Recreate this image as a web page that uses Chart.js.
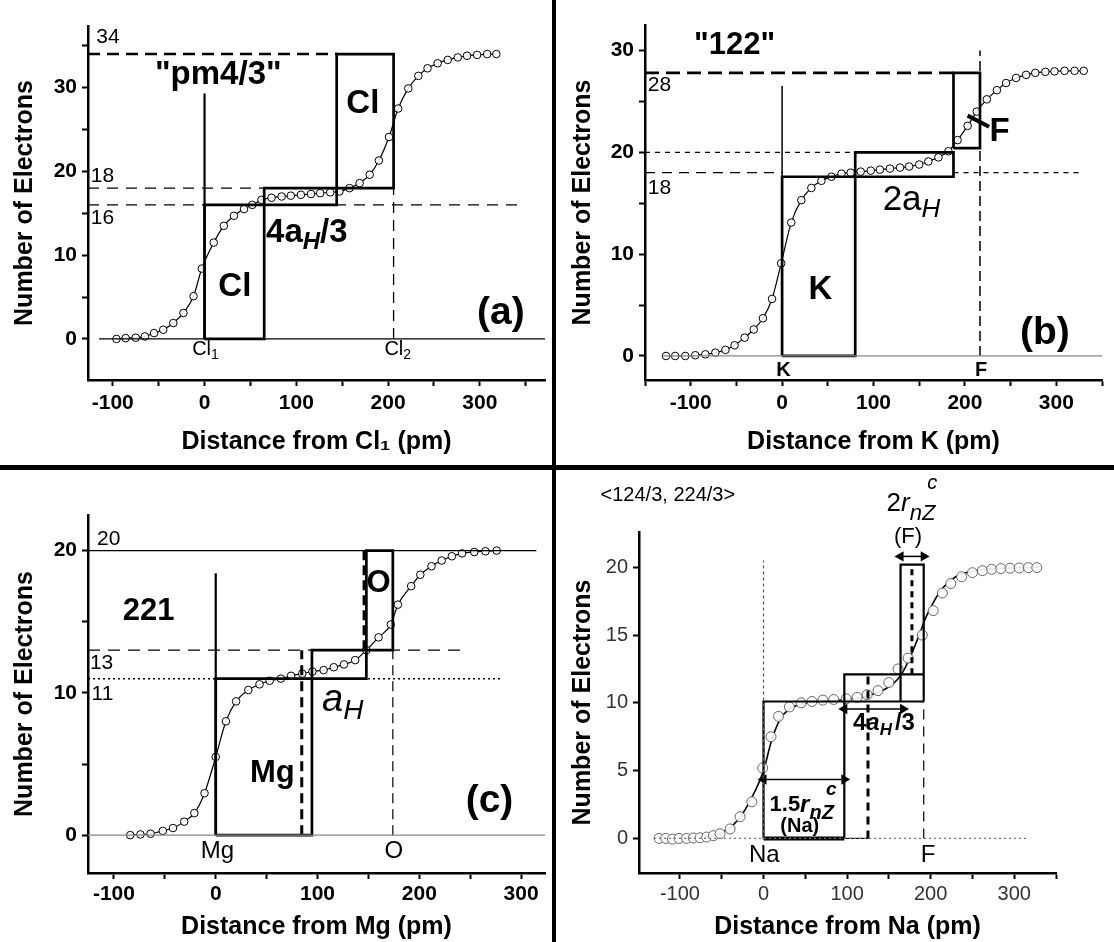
<!DOCTYPE html>
<html>
<head>
<meta charset="utf-8">
<script src="https://cdn.jsdelivr.net/npm/chart.js@4.4.1/dist/chart.umd.min.js"></script>
<style>
    html, body { margin: 0; padding: 0; background: #fff; }
    body { width: 1114px; height: 942px; position: relative; overflow: hidden; }
    canvas { position: absolute; }
    .bar { position: absolute; background: #000; }
</style>
</head>
<body>
<canvas id="pa" width="552" height="466" style="left:0;top:0"></canvas>
<canvas id="pb" width="556" height="466" style="left:558px;top:0"></canvas>
<canvas id="pc" width="552" height="472" style="left:0;top:470px"></canvas>
<canvas id="pd" width="556" height="472" style="left:558px;top:470px"></canvas>
<div class="bar" style="left:552px;top:0;width:4px;height:942px"></div>
<div class="bar" style="left:0;top:465px;width:1114px;height:5px"></div>
<script>
(() => {
    const FONT = '"Liberation Sans", Arial, Helvetica, sans-serif';

    // ticks and tick labels
    const xTicks = [-150, -100, -50, 0, 50, 100, 150, 200, 250, 300, 350];
    const xTickLabels = [-100, 0, 100, 200, 300];
    const yTicks = [0, 5, 10, 15, 20, 25, 30, 35];
    const aYLabels = [0, 10, 20, 30];
    const bYLabels = [0, 10, 20, 30];
    const cYLabels = [0, 10, 20];
    const dYLabels = [0, 5, 10, 15, 20];

    // (a) Cl2  "pm4/3"
    const aRange = [-127, 371];
    const aDist = [-96, -86, -75, -65, -55, -45, -34, -23, -12, -3, 10, 21, 32, 43, 52, 62, 73, 84, 94, 105,
        116, 126, 137, 147, 158, 169, 180, 190, 201, 211, 222, 233, 243, 254, 265, 276, 286, 297, 308, 318];
    const aElec = [0, 0.1, 0.15, 0.3, 0.7, 1.1, 1.9, 3.1, 5.1, 8.4, 11.5, 13.5, 14.7, 15.5, 16, 16.6, 16.85, 17, 17.1, 17.2,
        17.3, 17.4, 17.5, 17.6, 18, 18.6, 19.6, 21.3, 24.1, 27.5, 29.9, 31.4, 32.3, 32.9, 33.3, 33.6, 33.8, 33.9, 34, 34];
    const aLevels = [16, 18, 34];
    const aEdges = [0, 65, 144, 206];

    // (b) KF  "122"
    const bRange = [-150, 350];
    const bDist = [-127, -117, -106, -95, -84, -73, -62, -52, -41, -31, -21, -11, -1, 10, 21, 32, 43, 54, 65, 75, 86, 97,
        107, 118, 129, 139, 150, 160, 171, 182, 192, 203, 213, 224, 235, 245, 256, 267, 277, 288, 298, 309, 320, 330];
    const bElec = [0, 0, 0, 0.07, 0.16, 0.33, 0.6, 1.05, 1.8, 2.6, 3.7, 5.6, 9.1, 13.1, 15.3, 16.5, 17.2, 17.6, 17.9, 18.0, 18.1, 18.2,
        18.3, 18.4, 18.5, 18.6, 18.8, 19.1, 19.5, 20.1, 21.2, 22.6, 24.0, 25.2, 26.1, 26.8, 27.3, 27.6, 27.8, 27.9, 27.95, 28, 28, 28];
    const bLevels = [17.6, 20, 20.4, 27.8, 18];
    const bEdges = [0, 80, 187.5, 216.5];

    // (c) MgO  221
    const cRange = [-125.5, 323.5];
    const cDist = [-84, -74, -64, -52, -42, -31, -21, -11, 0, 10, 20, 32, 43, 53, 64, 74, 85, 95, 106, 116,
        126, 137, 148, 160, 172, 179, 192, 201, 212, 222, 232, 242, 254, 265, 276];
    const cElec = [0, 0.05, 0.1, 0.3, 0.5, 0.95, 1.55, 2.95, 5.5, 8.0, 9.4, 10.2, 10.6, 10.85, 11.0, 11.2, 11.35, 11.5, 11.6, 11.8,
        12.0, 12.3, 13.0, 13.9, 14.8, 16.2, 17.5, 18.3, 18.9, 19.3, 19.6, 19.8, 19.9, 19.95, 20];
    const cLevels = [11, 13, 20];
    const cEdges = [0, 84.5, 94.5, 146, 148, 174];

    // (d) NaF  <124/3, 224/3>
    const dRange = [-149, 350];
    const dDist = [-125, -117, -109, -101, -92, -84, -76, -68, -60, -52, -40, -28, -14, -1, 9, 18, 31, 45, 58, 71,
        84, 99, 112, 124, 137, 150, 161, 173, 190, 203, 214, 224, 237, 250, 262, 273, 284, 295, 306, 317, 327];
    const dElec = [0, 0, -0.05, 0, 0, 0.03, 0.05, 0.1, 0.2, 0.35, 0.7, 1.6, 2.7, 5.2, 7.5, 9.0, 9.7, 10.0, 10.1, 10.2,
        10.25, 10.3, 10.4, 10.6, 10.9, 11.5, 12.5, 13.3, 15.0, 16.8, 18.1, 18.8, 19.3, 19.6, 19.75, 19.85, 19.9, 19.93, 19.95, 19.97, 19.97];
    const dFitDist = [-125, -80, -60, -45, -30, -15, 0, 10, 20, 30, 45, 60, 80, 100, 120, 140, 155, 165, 175, 185,
        195, 205, 215, 230, 250, 280, 330];
    const dFitElec = [0, 0.05, 0.2, 0.6, 1.4, 2.9, 5, 7.3, 8.8, 9.5, 9.9, 10.05, 10.15, 10.25, 10.45, 10.85, 11.4, 12.1, 13.3, 14.8,
        16.4, 17.6, 18.5, 19.3, 19.7, 19.9, 20];
    const dLevels = [10.1, 12.1, 20.2];
    const dEdges = [0, 96.7, 125, 164, 177.6, 191.7];
    const dArrowY = [4.35, 9.55, 20.8];

    const f = (w, s, st) => `${st || ''} ${w} ${s}px ${FONT}`;

    // helpers that turn the values above into datasets
    const path = (pts, w, dash, color) => ({
        data: pts.map(p => ({ x: p[0], y: p[1] })),
        showLine: true, pointRadius: 0, fill: false, tension: 0,
        borderColor: color || '#000', borderWidth: w, borderDash: dash || [],
        borderJoinStyle: 'miter', borderCapStyle: 'butt'
    });
    const box = (x1, x2, y1, y2, w) => path([[x1, y1], [x1, y2], [x2, y2], [x2, y1], [x1, y1]], w);
    const curve = (xs, ys, r, ptColor, lw) => ({
        data: xs.map((x, i) => ({ x, y: ys[i] })),
        showLine: lw > 0, borderColor: '#000', borderWidth: lw, fill: false,
        cubicInterpolationMode: 'monotone',
        pointRadius: r, pointBackgroundColor: 'rgba(255,255,255,0.9)',
        pointBorderColor: ptColor, pointBorderWidth: 1
    });
    const arrow = (x1, x2, yv) => Object.assign(path([[x1, yv], [x2, yv]], 1.5), {
        pointRadius: 4.5, pointStyle: 'triangle', pointRotation: [270, 90],
        pointBackgroundColor: '#000', pointBorderColor: '#000'
    });

    // text notes, positioned through the chart scales
    const notes = (items) => ({
        id: 'notes',
        afterDatasetsDraw(chart) {
            const { ctx, scales: { x, y } } = chart;
            ctx.save();
            ctx.fillStyle = '#000';
            ctx.textBaseline = 'middle';
            items.forEach(it => {
                let w = 0;
                it.parts.forEach(p => { ctx.font = p[1]; w += ctx.measureText(p[0]).width + (p[3] || 0); });
                let px = x.getPixelForValue(it.x) - (it.left ? 0 : w / 2);
                const py = y.getPixelForValue(it.y);
                it.parts.forEach(p => {
                    ctx.font = p[1];
                    ctx.fillText(p[0], px, py + (p[2] || 0));
                    px += ctx.measureText(p[0]).width + (p[3] || 0);
                });
            });
            ctx.restore();
        }
    });

    const inRange = (vals, r) => vals.filter(v => v >= r[0] && v <= r[1]).map(v => ({ value: v }));

    const panel = (id, o) => new Chart(document.getElementById(id), {
        type: 'scatter',
        data: { datasets: o.sets },
        options: {
            responsive: false, animation: false, events: [], devicePixelRatio: 1,
            layout: { padding: { left: 0, right: o.padR, top: o.padT, bottom: 0 } },
            plugins: { legend: { display: false }, tooltip: { enabled: false } },
            scales: {
                x: {
                    type: 'linear', min: o.xr[0], max: o.xr[1],
                    afterBuildTicks: s => { s.ticks = inRange(xTicks, o.xr); },
                    afterFit: s => { s.height = o.xH; },
                    border: { color: '#000', width: 2.5 },
                    grid: { drawOnChartArea: false, tickLength: 6, tickWidth: 2, tickColor: '#000' },
                    ticks: {
                        autoSkip: false, maxRotation: 0,
                        padding: o.xPad, color: o.tickColor || '#000', font: o.tickFont,
                        callback: v => xTickLabels.includes(v) ? String(v) : ''
                    },
                    title: { display: true, text: o.xTitle, color: '#000',
                        font: { family: FONT, size: 25, weight: 'bold' }, padding: { top: 0, bottom: o.xTitlePad } }
                },
                y: {
                    type: 'linear', min: o.yr[0], max: o.yr[1],
                    afterBuildTicks: s => { s.ticks = inRange(yTicks, o.yr); },
                    afterFit: s => { s.width = o.yW; },
                    border: { color: '#000', width: 2.5 },
                    grid: { drawOnChartArea: false, tickLength: 6, tickWidth: 2, tickColor: '#000' },
                    ticks: {
                        autoSkip: false, padding: 5,
                        color: o.tickColor || '#000', font: o.tickFont,
                        callback: v => o.yLabels.includes(v) ? String(v) : ''
                    },
                    title: { display: true, text: 'Number of Electrons', color: '#000',
                        font: { family: FONT, size: 25, weight: 'bold' }, padding: { top: 10, bottom: 0 } }
                }
            }
        },
        plugins: [notes(o.notes)]
    });

    const boldTicks = { family: FONT, size: 21, weight: 'bold' };

    // ---- (a)
    panel('pa', {
        xr: aRange, yr: [-4.9, 37.35], padR: 7, padT: 26, xH: 86, yW: 88, xPad: 5, xTitlePad: 9,
        tickFont: boldTicks, yLabels: aYLabels, xTitle: 'Distance from Cl\u2081 (pm)',
        sets: [
            path([[-115, 0], [aRange[1], 0]], 1.2),
            path([[aRange[0], aLevels[2]], [aEdges[2], aLevels[2]]], 2.5, [12, 7]),
            path([[aRange[0], aLevels[1]], [aEdges[2], aLevels[1]]], 1.3, [11, 8]),
            path([[aRange[0], aLevels[0]], [347, aLevels[0]]], 1.3, [11, 8]),
            path([[aEdges[3], 0], [aEdges[3], aLevels[1]]], 1.3, [11, 7]),
            path([[aEdges[0], 0], [aEdges[0], 29.3]], 2.2),
            box(aEdges[0], aEdges[1], 0, aLevels[0], 2.7),
            box(aEdges[1], aEdges[2], aLevels[0], aLevels[1], 2.7),
            box(aEdges[2], aEdges[3], aLevels[1], aLevels[2], 2.7),
            curve(aDist, aElec, 3.8, '#000', 1.2)
        ],
        notes: [
            { x: -118, y: 36, left: true, parts: [['34', f('normal', 21)]] },
            { x: -124, y: 19.4, left: true, parts: [['18', f('normal', 21)]] },
            { x: -124, y: 14.4, left: true, parts: [['16', f('normal', 21)]] },
            { x: 15, y: 31.5, parts: [['"pm4/3"', f('bold', 33)]] },
            { x: 172.5, y: 28.1, parts: [['Cl', f('bold', 33)]] },
            { x: 33, y: 6.25, parts: [['Cl', f('bold', 33)]] },
            { x: 67, y: 12.6, left: true, parts: [['4a', f('bold', 33)], ['H', f('bold', 24, 'italic'), 9], ['/3', f('bold', 33)]] },
            { x: 323, y: 3.1, parts: [['(a)', f('bold', 39)]] },
            { x: 1, y: -1.3, parts: [['Cl', f('normal', 20)], ['1', f('normal', 14), 5]] },
            { x: 210.5, y: -1.3, parts: [['Cl', f('normal', 20)], ['2', f('normal', 14), 5]] }
        ]
    });

    // ---- (b)
    panel('pb', {
        xr: bRange, yr: [-2.36, 32.5], padR: 12, padT: 25, xH: 86, yW: 87, xPad: 5, xTitlePad: 9,
        tickFont: boldTicks, yLabels: bYLabels, xTitle: 'Distance from K (pm)',
        sets: [
            path([[-130, 0], [bRange[1], 0]], 1.2, [], '#888'),
            path([[bRange[0], bLevels[3]], [bEdges[2], bLevels[3]]], 2.8, [14, 7]),
            path([[bRange[0], bLevels[1]], [bEdges[1], bLevels[1]]], 1.3, [5, 5]),
            path([[bRange[0], bLevels[4]], [bEdges[0], bLevels[4]]], 1.3, [10, 7]),
            path([[bEdges[2], bLevels[4]], [327, bLevels[4]]], 1.3, [5, 5]),
            path([[bEdges[3], 0], [bEdges[3], 30]], 1.5, [10, 5]),
            path([[bEdges[0], 0], [bEdges[0], 26.5]], 1.5),
            box(bEdges[0], bEdges[1], 0, bLevels[0], 2.7),
            box(bEdges[1], bEdges[2], bLevels[0], bLevels[1], 2.7),
            box(bEdges[2], bEdges[3], bLevels[2], bLevels[3], 2.7),
            curve(bDist, bElec, 3.8, '#000', 1.2),
            path([[203, 23.6], [226.5, 22.5]], 4)
        ],
        notes: [
            { x: -52, y: 30.5, parts: [['"122"', f('bold', 31)]] },
            { x: -147, y: 26.6, left: true, parts: [['28', f('normal', 21)]] },
            { x: -147, y: 16.5, left: true, parts: [['18', f('normal', 21)]] },
            { x: 42, y: 6.46, parts: [['K', f('bold', 33)]] },
            { x: 110, y: 15.3, left: true, parts: [['2a', f('normal', 35)], ['H', f('normal', 26, 'italic'), 10]] },
            { x: 238, y: 22, parts: [['F', f('bold', 33)]] },
            { x: 287.5, y: 2.2, parts: [['(b)', f('bold', 39)]] },
            { x: 1.5, y: -1.4, parts: [['K', f('bold', 20)]] },
            { x: 217.7, y: -1.4, parts: [['F', f('bold', 20)]] }
        ]
    });

    // ---- (c)
    panel('pc', {
        xr: cRange, yr: [-2.66, 22.5], padR: 7, padT: 45, xH: 69, yW: 88, xPad: 3, xTitlePad: 0,
        tickFont: boldTicks, yLabels: cYLabels, xTitle: 'Distance from Mg (pm)',
        sets: [
            path([[cRange[0], 0], [cRange[1], 0]], 1.2, [], '#888'),
            path([[cRange[0], cLevels[2]], [315, cLevels[2]]], 1.2),
            path([[cRange[0], cLevels[1]], [247, cLevels[1]]], 1.4, [12, 8]),
            path([[cRange[0], cLevels[0]], [280, cLevels[0]]], 1.5, [2, 3]),
            path([[cEdges[5], 0], [cEdges[5], cLevels[2]]], 1.2, [10, 6]),
            path([[cEdges[0], 0], [cEdges[0], 18.4]], 2.2),
            path([[cEdges[1], 0], [cEdges[1], cLevels[1]]], 3, [10, 6]),
            path([[cEdges[3], cLevels[1]], [cEdges[3], cLevels[2]]], 3.5, [10, 5]),
            box(cEdges[0], cEdges[2], 0, cLevels[0], 2.7),
            box(cEdges[2], cEdges[4], cLevels[0], cLevels[1], 2.7),
            box(cEdges[4], cEdges[5], cLevels[1], cLevels[2], 2.7),
            curve(cDist, cElec, 3.8, '#000', 1.2)
        ],
        notes: [
            { x: -116.7, y: 20.8, left: true, parts: [['20', f('normal', 21)]] },
            { x: -123.6, y: 12.1, left: true, parts: [['13', f('normal', 21)]] },
            { x: -122, y: 9.9, left: true, parts: [['11', f('normal', 21)]] },
            { x: -66, y: 15.7, parts: [['221', f('bold', 31)]] },
            { x: 160, y: 17.7, parts: [['O', f('bold', 31)]] },
            { x: 55.7, y: 4.36, parts: [['Mg', f('bold', 31)]] },
            { x: 104.5, y: 9.5, left: true, parts: [['a', f('normal', 38, 'italic')], ['H', f('normal', 28, 'italic'), 11]] },
            { x: 269, y: 2.4, parts: [['(c)', f('bold', 39)]] },
            { x: 1.7, y: -1.15, parts: [['Mg', f('normal', 24)]] },
            { x: 175, y: -1.15, parts: [['O', f('normal', 24)]] }
        ]
    });

    // ---- (d)
    const dy0 = dLevels[0], dy1 = dLevels[1], dy2 = dLevels[2];
    panel('pd', {
        xr: dRange, yr: [-2.55, 22.6], padR: 58, padT: 62, xH: 69, yW: 81, xPad: 3, xTitlePad: 0,
        tickFont: { family: FONT, size: 20, weight: 'normal' }, tickColor: '#333',
        yLabels: dYLabels, xTitle: 'Distance from Na (pm)',
        sets: [
            path([[-131, 0], [318, 0]], 1.3, [2, 3], '#777'),
            path([[dEdges[0], 0], [dEdges[0], 20.5]], 1.2, [3, 3], '#555'),
            path([[dEdges[0], 0], [dEdges[1], 0]], 4),
            path([[dEdges[0], 0], [dEdges[0], dy0], [dEdges[5], dy0]], 2.2),
            path([[dEdges[1], 0], [dEdges[1], dy1], [dEdges[5], dy1]], 2.2),
            path([[dEdges[1], 0], [dEdges[2], 0]], 1.2),
            path([[dEdges[3], dy0], [dEdges[3], dy2], [dEdges[5], dy2], [dEdges[5], dy0]], 2.2),
            path([[dEdges[2], 0], [dEdges[2], dy1]], 3, [8, 6]),
            path([[dEdges[4], dy1], [dEdges[4], dy2]], 3, [6, 5]),
            path([[dEdges[5], 0], [dEdges[5], dy0]], 1.2, [10, 7]),
            arrow(dEdges[0], dEdges[1], dArrowY[0]),
            arrow(dEdges[1], 167, dArrowY[1]),
            arrow(dEdges[3], dEdges[5], dArrowY[2]),
            curve(dDist, dElec, 5, '#666', 0),
            curve(dFitDist, dFitElec, 0, '#000', 1.6)
        ],
        notes: [
            { x: -195, y: 25.3, left: true, parts: [['<124/3, 224/3>', f('normal', 20)]] },
            { x: 177.6, y: 24.67, parts: [['2', f('normal', 26)], ['r', f('normal', 26, 'italic')], ['nZ', f('normal', 22, 'italic'), 10, -8], ['c', f('normal', 20, 'italic'), -20]] },
            { x: 173, y: 22.2, parts: [['(F)', f('normal', 22)]] },
            { x: 107, y: 8.5, left: true, parts: [['4', f('bold', 24)], ['a', f('bold', 24, 'italic')], ['H', f('bold', 17, 'italic'), 7, 3], ['/3', f('bold', 24)]] },
            { x: 7.2, y: 2.45, left: true, parts: [['1.5', f('bold', 22)], ['r', f('bold', 24, 'italic')], ['nZ', f('bold', 20, 'italic'), 8, -8], ['c', f('bold', 19, 'italic'), -15]] },
            { x: 43.4, y: 0.86, parts: [['(Na)', f('bold', 20)]] },
            { x: 1, y: -1.23, parts: [['Na', f('normal', 24)]] },
            { x: 196.8, y: -1.23, parts: [['F', f('normal', 24)]] }
        ]
    });
})();
</script>
</body>
</html>
